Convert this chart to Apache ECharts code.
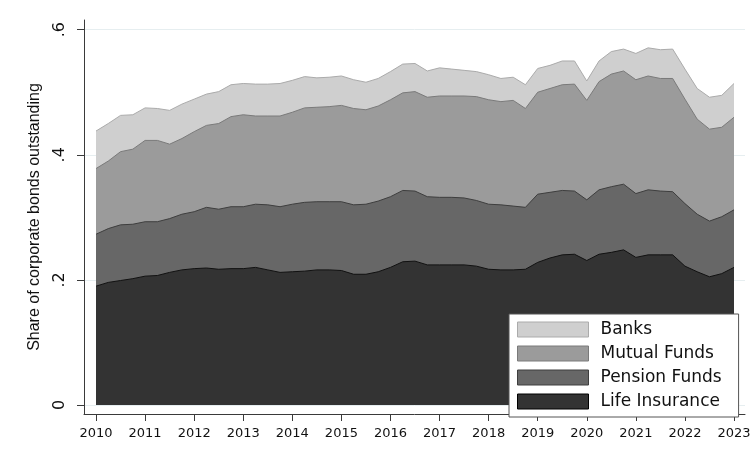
<!DOCTYPE html>
<html>
<head>
<meta charset="utf-8">
<script src="https://cdn.jsdelivr.net/npm/echarts@6/dist/echarts.min.js"></script>
<style>
  html, body { margin: 0; padding: 0; background: #ffffff; }
  #chart { width: 754px; height: 449px; }
</style>
</head>
<body>
<div id="chart"></div>
<script>
// Quarterly observations, 2010Q1 through 2023Q1 (decimal years)
const startYear = 2010;
const quarterCount = 53;
const periods = Array.from({ length: quarterCount }, (_, i) => startYear + i / 4);

// Share of corporate bonds outstanding held by each investor type
const lifeInsurance = [
  0.190, 0.196, 0.199, 0.202, 0.206, 0.207, 0.212, 0.216, 0.218, 0.219,
  0.217, 0.218, 0.218, 0.220, 0.216, 0.212, 0.213, 0.214, 0.216, 0.216,
  0.215, 0.209, 0.209, 0.213, 0.220, 0.229, 0.230, 0.224, 0.224, 0.224,
  0.224, 0.222, 0.217, 0.216, 0.216, 0.217, 0.228, 0.235, 0.240, 0.241,
  0.231, 0.241, 0.244, 0.248, 0.236, 0.240, 0.240, 0.240, 0.222, 0.213,
  0.205, 0.210, 0.220
];
const pensionFunds = [
  0.083, 0.086, 0.089, 0.087, 0.087, 0.086, 0.086, 0.089, 0.091, 0.097,
  0.096, 0.099, 0.099, 0.101, 0.104, 0.105, 0.108, 0.110, 0.109, 0.109,
  0.110, 0.111, 0.112, 0.113, 0.113, 0.114, 0.112, 0.109, 0.108, 0.108,
  0.107, 0.105, 0.104, 0.104, 0.102, 0.099, 0.109, 0.105, 0.103, 0.101,
  0.097, 0.103, 0.105, 0.105, 0.102, 0.104, 0.102, 0.101, 0.100, 0.092,
  0.089, 0.091, 0.092
];
const mutualFunds = [
  0.105, 0.108, 0.117, 0.120, 0.130, 0.130, 0.119, 0.121, 0.128, 0.131,
  0.137, 0.144, 0.147, 0.141, 0.142, 0.145, 0.147, 0.151, 0.151, 0.152,
  0.154, 0.154, 0.151, 0.152, 0.155, 0.156, 0.159, 0.159, 0.162, 0.162,
  0.163, 0.166, 0.167, 0.165, 0.169, 0.158, 0.163, 0.166, 0.169, 0.171,
  0.159, 0.173, 0.180, 0.181, 0.182, 0.182, 0.180, 0.181, 0.167, 0.152,
  0.147, 0.143, 0.148
];
const banks = [
  0.060, 0.060, 0.058, 0.055, 0.052, 0.051, 0.054, 0.055, 0.052, 0.050,
  0.051, 0.051, 0.050, 0.051, 0.051, 0.052, 0.051, 0.050, 0.047, 0.047,
  0.047, 0.046, 0.044, 0.044, 0.045, 0.046, 0.045, 0.042, 0.045, 0.043,
  0.041, 0.040, 0.040, 0.037, 0.037, 0.038, 0.038, 0.037, 0.038, 0.037,
  0.031, 0.033, 0.036, 0.035, 0.042, 0.045, 0.046, 0.047, 0.048, 0.049,
  0.051, 0.051, 0.054
];

// Axis ticks
const yearTicks = Array.from({ length: 14 }, (_, i) => 2010 + i);
const shareTicks = [0, 0.2, 0.4, 0.6];

// Layers from the bottom of the stack upwards
const layers = [
  { name: 'Life Insurance', values: lifeInsurance, fill: '#333333', edge: '#111111', swatchEdge: '#000000' },
  { name: 'Pension Funds',  values: pensionFunds,  fill: '#676767', edge: '#3e3e3e', swatchEdge: '#3e3e3e' },
  { name: 'Mutual Funds',   values: mutualFunds,   fill: '#9b9b9b', edge: '#7a7a7a', swatchEdge: '#7a7a7a' },
  { name: 'Banks',          values: banks,         fill: '#cfcfcf', edge: '#ababab', swatchEdge: '#ababab' }
];

// Running totals: each layer's upper edge is the sum of itself and everything below it
let running = periods.map(() => 0);
layers.forEach(l => {
  running = running.map((s, i) => s + l.values[i]);
  l.upper = running.slice();
});

const chart = echarts.init(document.getElementById('chart'), null, { renderer: 'canvas' });

const axisColor = '#3a3a3a';
const textColor = '#111111';

// Top layer is drawn first so each lower layer paints over the part it owns
const drawOrder = layers.slice().reverse();

chart.setOption({
  animation: false,
  backgroundColor: '#ffffff',
  grid: { left: 84, right: 9, top: 20, bottom: 35, containLabel: false },
  xAxis: {
    type: 'value',
    min: 2009.755,
    max: 2023.224,
    axisLine: { show: true, onZero: false, lineStyle: { color: axisColor, width: 1 } },
    axisTick: { show: true, length: 7, customValues: yearTicks, lineStyle: { color: axisColor } },
    axisLabel: {
      customValues: yearTicks,
      margin: 13,
      fontFamily: 'DejaVu Sans',
      fontSize: 13,
      color: textColor,
      formatter: v => String(Math.round(v))
    },
    splitLine: { show: false }
  },
  yAxis: {
    type: 'value',
    min: -0.0144,
    max: 0.6155,
    name: 'Share of corporate bonds outstanding',
    nameLocation: 'middle',
    nameGap: 41,
    nameRotate: 90,
    nameTextStyle: { fontFamily: 'Liberation Sans', fontSize: 16, color: textColor },
    axisLine: { show: true, onZero: false, lineStyle: { color: axisColor, width: 1 } },
    axisTick: { show: true, length: 7, customValues: shareTicks, lineStyle: { color: axisColor } },
    axisLabel: {
      customValues: shareTicks,
      rotate: 90,
      margin: 16,
      fontFamily: 'DejaVu Sans',
      fontSize: 16,
      color: textColor,
      formatter: v => (v === 0 ? '0' : String(Math.round(v * 10) / 10).replace(/^0/, ''))
    },
    splitLine: { show: true, lineStyle: { color: '#e6eef0', width: 1 } }
  },
  legend: {
    orient: 'vertical',
    left: 509,
    top: 314,
    padding: [7, 17, 7, 8],
    itemGap: 7,
    itemWidth: 71,
    itemHeight: 15,
    icon: 'rect',
    backgroundColor: '#ffffff',
    borderColor: '#555555',
    borderWidth: 1,
    borderRadius: 0,
    selectedMode: false,
    textStyle: {
      fontFamily: 'DejaVu Sans',
      fontSize: 17,
      lineHeight: 15,
      color: textColor,
      padding: [0, 0, 0, 7]
    },
    data: drawOrder.map(l => ({
      name: l.name,
      itemStyle: { color: l.fill, borderColor: l.swatchEdge, borderWidth: 1 }
    }))
  },
  series: drawOrder.map(l => ({
    name: l.name,
    type: 'line',
    data: periods.map((p, i) => [p, l.upper[i]]),
    symbol: 'none',
    smooth: false,
    itemStyle: { color: l.fill },
    lineStyle: { color: l.edge, width: 1 },
    areaStyle: { color: l.fill, opacity: 1 },
    emphasis: { disabled: true }
  }))
});
</script>
</body>
</html>
